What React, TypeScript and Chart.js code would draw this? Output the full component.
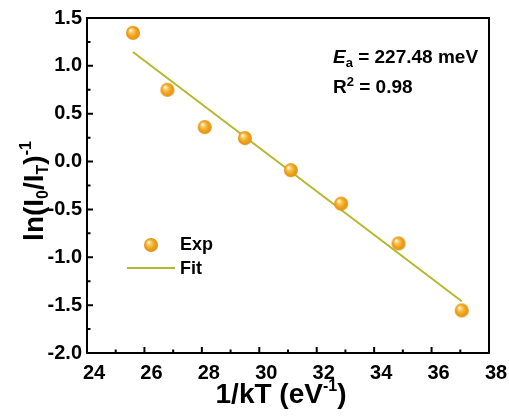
import React, { useEffect, useRef } from "react";
import { Chart, registerables } from "chart.js";

Chart.register(...registerables);

// Measured points: 1/kT (eV^-1) vs ln(I0/IT)^-1
const invKT = [25.6, 26.8, 28.1, 29.5, 31.1, 32.85, 34.85, 37.05];
const lnRatio = [1.345, 0.75, 0.36, 0.245, -0.09, -0.44, -0.855, -1.555];

// Linear fit endpoints (slope -0.22748 -> Ea = 227.48 meV)
const fitX = [25.6, 37.05];
const fitY = [1.145, -1.46];

const xTicks = [24, 26, 28, 30, 32, 34, 36, 38];
const yTicks = [-2.0, -1.5, -1.0, -0.5, 0.0, 0.5, 1.0, 1.5];

const ORANGE = "#f0a21e";
const FIT_COLOR = "#b4b82a";
const FONT = "Arial, 'Liberation Sans', sans-serif";

type Seg = { t: string; size: number; dy: number; italic?: boolean };

function drawRich(ctx: CanvasRenderingContext2D, segs: Seg[], x: number, y: number, align: "left" | "center") {
  const fontOf = (s: Seg) => `${s.italic ? "italic " : ""}bold ${s.size}px ${FONT}`;
  let total = 0;
  for (const s of segs) {
    ctx.font = fontOf(s);
    total += ctx.measureText(s.t).width;
  }
  let cx = align === "center" ? x - total / 2 : x;
  ctx.textBaseline = "alphabetic";
  ctx.textAlign = "left";
  for (const s of segs) {
    ctx.font = fontOf(s);
    ctx.fillText(s.t, cx, y + s.dy);
    cx += ctx.measureText(s.t).width;
  }
}

function makeSphere(r: number): HTMLCanvasElement {
  const c = document.createElement("canvas");
  const d = r * 2 + 2;
  c.width = d;
  c.height = d;
  const g = c.getContext("2d")!;
  const cx = d / 2;
  const grad = g.createRadialGradient(cx - r * 0.35, cx - r * 0.4, 0.5, cx, cx, r);
  grad.addColorStop(0, "#fffbe8");
  grad.addColorStop(0.22, "#f9cf6c");
  grad.addColorStop(0.6, "#f2a51f");
  grad.addColorStop(1, "#e0900f");
  g.fillStyle = grad;
  g.beginPath();
  g.arc(cx, cx, r, 0, Math.PI * 2);
  g.fill();
  return c;
}

export default function App() {
  const ref = useRef<HTMLCanvasElement>(null);

  useEffect(() => {
    const canvas = ref.current!;
    const sphere = makeSphere(7);

    const decorations = {
      id: "decorations",
      afterDraw(chart: any) {
        const ctx = chart.ctx as CanvasRenderingContext2D;
        const { left, right, top, bottom } = chart.chartArea;
        const xs = chart.scales.x;
        const ys = chart.scales.y;
        ctx.save();
        ctx.strokeStyle = "#000";
        ctx.fillStyle = "#000";

        // frame
        ctx.lineWidth = 2;
        ctx.strokeRect(left, top, right - left, bottom - top);

        // inward ticks: majors and minors
        ctx.lineWidth = 2;
        ctx.beginPath();
        for (let v = 24; v <= 38; v += 1) {
          const px = xs.getPixelForValue(v);
          const len = v % 2 === 0 ? 6 : 3.5;
          ctx.moveTo(px, bottom);
          ctx.lineTo(px, bottom - len);
        }
        for (let i = 0; i <= 14; i++) {
          const v = -2 + i * 0.25;
          const py = ys.getPixelForValue(v);
          const len = i % 2 === 0 ? 6 : 3.5;
          ctx.moveTo(left, py);
          ctx.lineTo(left + len, py);
        }
        ctx.stroke();

        // x title
        drawRich(
          ctx,
          [
            { t: "1/kT (eV", size: 28, dy: 0 },
            { t: "-1", size: 16, dy: -12 },
            { t: ")", size: 28, dy: 0 },
          ],
          281,
          403,
          "center"
        );

        // y title
        ctx.save();
        ctx.translate(43, 191);
        ctx.rotate(-Math.PI / 2);
        drawRich(
          ctx,
          [
            { t: "ln(I", size: 28, dy: 0 },
            { t: "0", size: 16, dy: 5 },
            { t: "/I", size: 28, dy: 0 },
            { t: "T", size: 16, dy: 5 },
            { t: ")", size: 28, dy: 0 },
            { t: "-1", size: 16, dy: -12 },
          ],
          0,
          0,
          "center"
        );
        ctx.restore();

        // fit annotation
        drawRich(
          ctx,
          [
            { t: "E", size: 19, dy: 0, italic: true },
            { t: "a", size: 13, dy: 4 },
            { t: " = 227.48 meV", size: 19, dy: 0 },
          ],
          333,
          63,
          "left"
        );
        drawRich(
          ctx,
          [
            { t: "R", size: 19, dy: 0 },
            { t: "2", size: 13, dy: -7 },
            { t: " = 0.98", size: 19, dy: 0 },
          ],
          333,
          93,
          "left"
        );

        // legend
        ctx.drawImage(sphere, 151 - sphere.width / 2, 245 - sphere.height / 2);
        ctx.strokeStyle = FIT_COLOR;
        ctx.lineWidth = 2;
        ctx.beginPath();
        ctx.moveTo(127, 268);
        ctx.lineTo(175, 268);
        ctx.stroke();
        ctx.fillStyle = "#000";
        ctx.font = `bold 18px ${FONT}`;
        ctx.textBaseline = "middle";
        ctx.textAlign = "left";
        ctx.fillText("Exp", 180, 245);
        ctx.fillText("Fit", 180, 269);
        ctx.restore();
      },
    };

    const chart = new Chart(canvas, {
      type: "scatter",
      data: {
        datasets: [
          {
            label: "Fit",
            data: fitX.map((x, i) => ({ x, y: fitY[i] })),
            showLine: true,
            borderColor: FIT_COLOR,
            borderWidth: 2,
            pointRadius: 0,
            order: 2,
          },
          {
            label: "Exp",
            data: invKT.map((x, i) => ({ x, y: lnRatio[i] })),
            pointStyle: sphere as any,
            pointRadius: 7,
            backgroundColor: ORANGE,
            order: 1,
          },
        ],
      },
      options: {
        responsive: false,
        animation: false,
        layout: { padding: { top: 18, right: 20, left: 0, bottom: 0 } },
        plugins: { legend: { display: false }, tooltip: { enabled: false } },
        scales: {
          x: {
            type: "linear",
            min: 24,
            max: 38,
            afterBuildTicks: (s: any) => {
              s.ticks = xTicks.map((v) => ({ value: v }));
            },
            afterFit: (s: any) => {
              s.height = 63;
            },
            grid: { display: false, drawTicks: false },
            border: { display: false },
            ticks: {
              color: "#000",
              font: { family: FONT, size: 20, weight: "bold" },
              padding: 8,
              labelOffset: 7,
              maxRotation: 0,
              callback: (v: any) => String(v),
            },
          },
          y: {
            type: "linear",
            min: -2,
            max: 1.5,
            afterBuildTicks: (s: any) => {
              s.ticks = yTicks.map((v) => ({ value: v }));
            },
            afterFit: (s: any) => {
              s.width = 87;
            },
            grid: { display: false, drawTicks: false },
            border: { display: false },
            ticks: {
              color: "#000",
              font: { family: FONT, size: 20, weight: "bold" },
              padding: 5,
              callback: (v: any) => Number(v).toFixed(1),
            },
          },
        },
      },
      plugins: [decorations],
    });
    return () => chart.destroy();
  }, []);

  return (
    <div style={{ position: "fixed", left: 0, top: 0, width: 509, height: 416, background: "#fff" }}>
      <canvas ref={ref} width={509} height={416} />
    </div>
  );
}
